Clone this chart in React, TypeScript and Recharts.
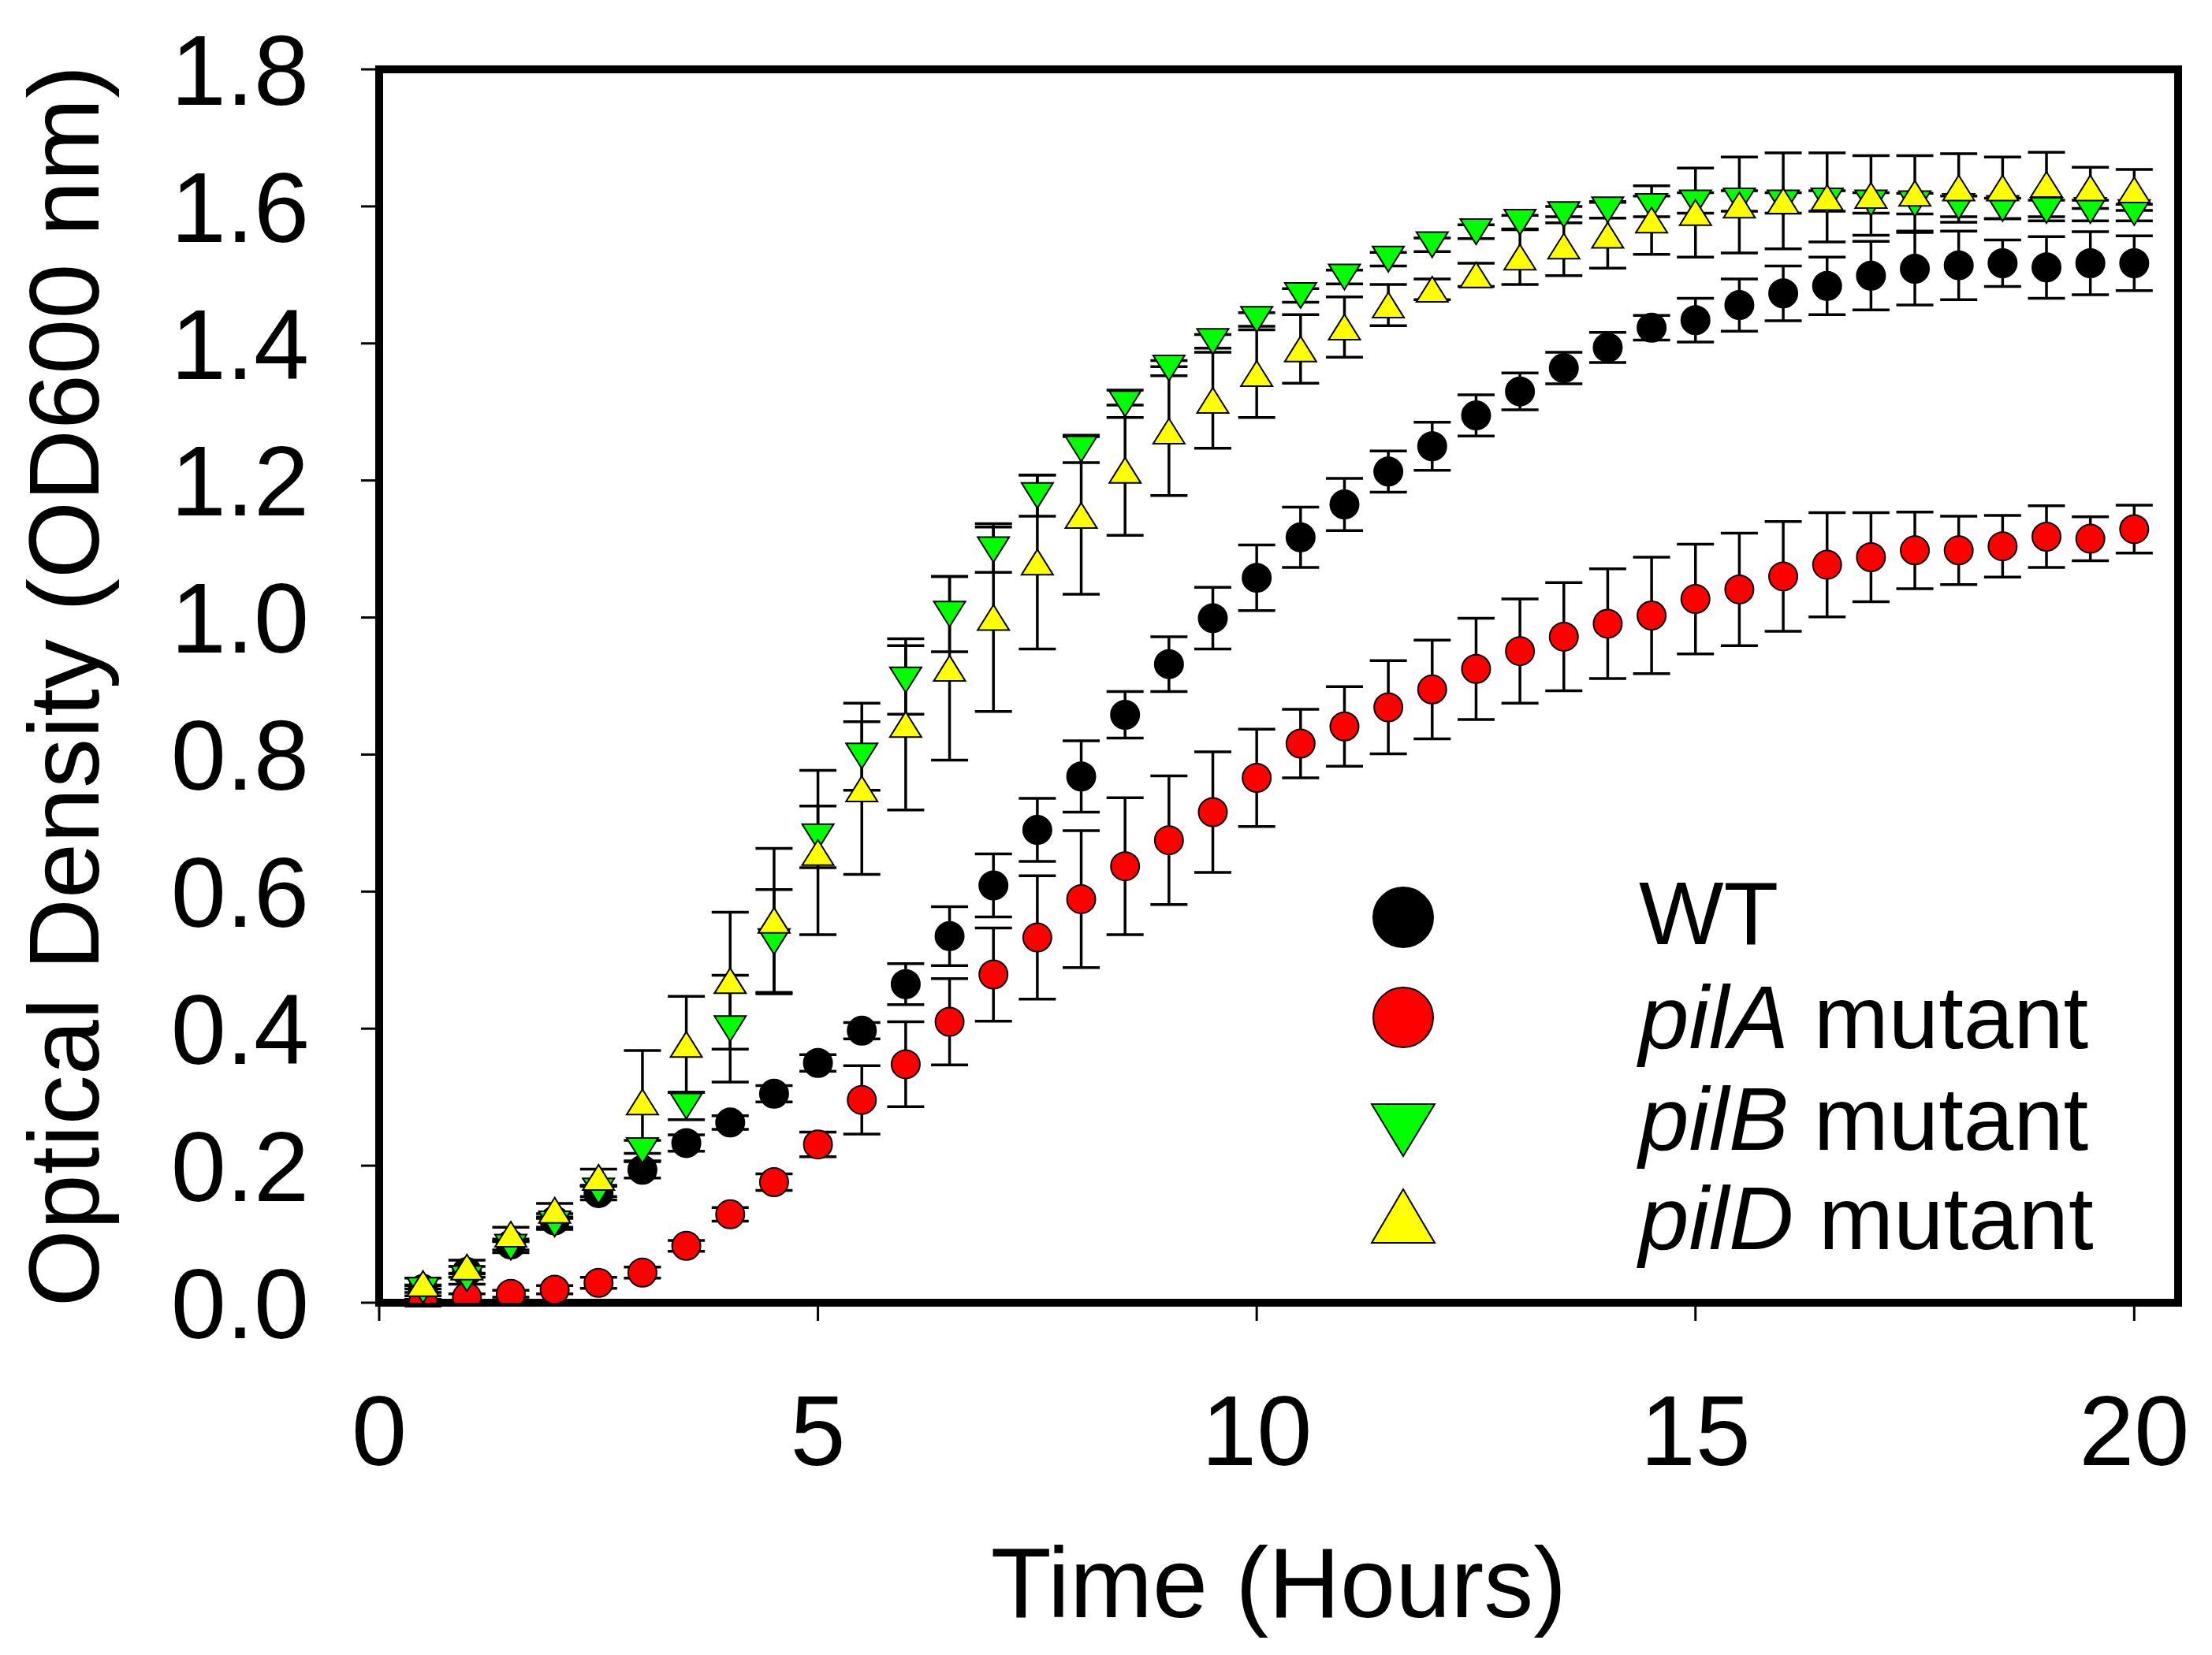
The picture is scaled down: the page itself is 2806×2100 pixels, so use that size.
import React from 'react';
import { ScatterChart, Scatter, XAxis, YAxis, ErrorBar, ReferenceArea, Legend } from 'recharts';

const FONT = '"Liberation Sans", Arial, sans-serif';

const TIMES = [0.5, 1, 1.5, 2, 2.5, 3, 3.5, 4, 4.5, 5, 5.5, 6, 6.5, 7, 7.5, 8, 8.5, 9, 9.5, 10,
  10.5, 11, 11.5, 12, 12.5, 13, 13.5, 14, 14.5, 15, 15.5, 16, 16.5, 17, 17.5, 18, 18.5, 19, 19.5, 20];

const WT = [0.02, 0.045, 0.085, 0.12, 0.16, 0.194, 0.233, 0.263, 0.305, 0.35, 0.397, 0.465, 0.535, 0.609, 0.69, 0.768, 0.858, 0.932, 0.999, 1.058,
  1.117, 1.165, 1.213, 1.25, 1.295, 1.33, 1.364, 1.394, 1.423, 1.434, 1.456, 1.473, 1.484, 1.499, 1.509, 1.514, 1.517, 1.511, 1.517, 1.517];
const WT_ERR = [0.005, 0.008, 0.008, 0.01, 0.01, 0.012, 0.012, 0.01, 0.012, 0.012, 0.012, 0.03, 0.043, 0.046, 0.046, 0.052, 0.034, 0.04, 0.045, 0.048,
  0.044, 0.038, 0.03, 0.035, 0.03, 0.027, 0.023, 0.022, 0.018, 0.032, 0.038, 0.04, 0.042, 0.05, 0.053, 0.05, 0.034, 0.045, 0.046, 0.04];

const PILA = [0.0, 0.008, 0.013, 0.019, 0.029, 0.044, 0.083, 0.129, 0.176, 0.231, 0.296, 0.348, 0.41, 0.479, 0.533, 0.589, 0.637, 0.675, 0.716, 0.766,
  0.816, 0.841, 0.869, 0.895, 0.925, 0.951, 0.972, 0.991, 1.003, 1.027, 1.041, 1.06, 1.077, 1.088, 1.098, 1.098, 1.104, 1.118, 1.115, 1.129];
const PILA_ERR = [0.005, 0.005, 0.005, 0.006, 0.008, 0.008, 0.008, 0.01, 0.012, 0.018, 0.05, 0.062, 0.063, 0.068, 0.09, 0.1, 0.1, 0.094, 0.088, 0.071,
  0.05, 0.058, 0.068, 0.072, 0.074, 0.076, 0.079, 0.08, 0.085, 0.08, 0.082, 0.08, 0.076, 0.065, 0.056, 0.05, 0.045, 0.045, 0.032, 0.035];

const PILB = [0.018, 0.035, 0.081, 0.115, 0.163, 0.222, 0.287, 0.4, 0.527, 0.68, 0.798, 0.909, 1.005, 1.099, 1.178, 1.246, 1.312, 1.364, 1.403, 1.435,
  1.47, 1.497, 1.523, 1.544, 1.563, 1.577, 1.588, 1.595, 1.6, 1.605, 1.608, 1.605, 1.608, 1.605, 1.604, 1.6, 1.597, 1.594, 1.594, 1.591];
const PILB_ERR = [0.008, 0.008, 0.008, 0.008, 0.008, 0.015, 0.02, 0.078, 0.076, 0.045, 0.05, 0.05, 0.055, 0.033, 0.03, 0.02, 0.02, 0.011, 0.01, 0.01,
  0.01, 0.01, 0.01, 0.01, 0.01, 0.01, 0.012, 0.012, 0.015, 0.015, 0.015, 0.015, 0.015, 0.015, 0.015, 0.015, 0.015, 0.015, 0.015, 0.012];

const PILD = [0.028, 0.052, 0.1, 0.135, 0.183, 0.293, 0.377, 0.47, 0.558, 0.657, 0.75, 0.844, 0.926, 1.0, 1.081, 1.149, 1.215, 1.272, 1.317, 1.356,
  1.392, 1.424, 1.456, 1.479, 1.5, 1.526, 1.542, 1.558, 1.58, 1.591, 1.602, 1.608, 1.613, 1.616, 1.619, 1.627, 1.627, 1.632, 1.627, 1.624];
const PILD_ERR = [0.008, 0.01, 0.01, 0.01, 0.012, 0.075, 0.07, 0.1, 0.105, 0.12, 0.125, 0.125, 0.134, 0.137, 0.127, 0.115, 0.095, 0.094, 0.07, 0.064,
  0.05, 0.044, 0.03, 0.015, 0.017, 0.04, 0.043, 0.048, 0.05, 0.065, 0.07, 0.07, 0.065, 0.058, 0.055, 0.05, 0.045, 0.047, 0.03, 0.03];

const X_TICKS = [0, 5, 10, 15, 20];
const Y_TICKS = [0, 0.2, 0.4, 0.6, 0.8, 1.0, 1.2, 1.4, 1.6, 1.8];

const build = (vals: number[], errs: number[]) => TIMES.map((t, i) => ({ t, v: vals[i], e: errs[i] }));

const wtData = build(WT, WT_ERR);
const pilAData = build(PILA, PILA_ERR);
const pilBData = build(PILB, PILB_ERR);
const pilDData = build(PILD, PILD_ERR);

const circleShape = (fill: string) => (props: any) => {
  const { cx, cy } = props;
  if (cx == null || cy == null) return null;
  return <circle cx={cx} cy={cy} r={18} fill={fill} stroke="#000" strokeWidth={2} />;
};

const triDownShape = (props: any) => {
  const { cx, cy } = props;
  if (cx == null || cy == null) return null;
  const w = 20, h = 32;
  return <path d={`M${cx - w},${cy - h / 2}L${cx + w},${cy - h / 2}L${cx},${cy + h / 2}Z`} fill="#00ff00" stroke="#000" strokeWidth={2} />;
};

const triUpShape = (props: any) => {
  const { cx, cy } = props;
  if (cx == null || cy == null) return null;
  const w = 20, h = 32;
  return <path d={`M${cx},${cy - h / 2}L${cx + w},${cy + h / 2}L${cx - w},${cy + h / 2}Z`} fill="#ffff00" stroke="#000" strokeWidth={2} />;
};

const LegendBox = () => (
  <svg width={1000} height={560} style={{ display: 'block', overflow: 'visible' }}>
    <circle cx={80} cy={84} r={38} fill="#000" stroke="#000" strokeWidth={2} />
    <circle cx={80} cy={211} r={38} fill="#ff0000" stroke="#000" strokeWidth={2} />
    <path d="M40,321L120,321L80,387Z" fill="#00ff00" stroke="#000" strokeWidth={2} />
    <path d="M80,429L120,497L40,497Z" fill="#ffff00" stroke="#000" strokeWidth={2} />
    <g fontFamily={FONT} fontSize={114} fill="#000">
      <text x={379} y={118}>WT</text>
      <text x={379} y={250}><tspan fontStyle="italic">pilA</tspan> mutant</text>
      <text x={379} y={379}><tspan fontStyle="italic">pilB</tspan> mutant</text>
      <text x={379} y={505}><tspan fontStyle="italic">pilD</tspan> mutant</text>
    </g>
  </svg>
);

const tickStyle = { fontSize: 126, fill: '#000', fontFamily: FONT };

export default function App() {
  return (
    <div style={{ position: 'absolute', left: 0, top: 0, width: 2806, height: 2100, background: '#fff' }}>
      <ScatterChart width={2806} height={2100} margin={{ top: 88, right: 43, bottom: 27, left: 0 }}>
        <XAxis
          type="number"
          dataKey="t"
          domain={[0, 20.5]}
          ticks={X_TICKS}
          allowDataOverflow
          height={420}
          axisLine={false}
          tickLine={{ stroke: '#000', strokeWidth: 3 }}
          tickSize={23}
          tickMargin={94}
          tick={tickStyle}
          label={{ value: 'Time (Hours)', position: 'insideBottom', offset: 21, style: { fontSize: 126, fill: '#000', fontFamily: FONT } }}
        />
        <YAxis
          type="number"
          dataKey="v"
          domain={[0, 1.8]}
          ticks={Y_TICKS}
          allowDataOverflow
          width={481}
          axisLine={false}
          tickLine={{ stroke: '#000', strokeWidth: 3 }}
          tickSize={23}
          tickMargin={66}
          tick={tickStyle}
          tickFormatter={(v: number) => v.toFixed(1)}
          label={{ value: 'Optical Density (OD600 nm)', angle: -90, position: 'insideLeft', offset: 80, style: { textAnchor: 'middle', fontSize: 126, fill: '#000', fontFamily: FONT } }}
        />
        <ReferenceArea x1={0} x2={20.5} y1={0} y2={1.8} fill="none" stroke="#000" strokeWidth={10} ifOverflow="visible" />
        <Scatter name="WT" data={wtData} shape={circleShape('#000000')} isAnimationActive={false}>
          <ErrorBar dataKey="e" direction="y" width={23.5} stroke="#000" strokeWidth={3.5} />
        </Scatter>
        <Scatter name="pilA mutant" data={pilAData} shape={circleShape('#ff0000')} isAnimationActive={false}>
          <ErrorBar dataKey="e" direction="y" width={23.5} stroke="#000" strokeWidth={3.5} />
        </Scatter>
        <Scatter name="pilB mutant" data={pilBData} shape={triDownShape} isAnimationActive={false}>
          <ErrorBar dataKey="e" direction="y" width={23.5} stroke="#000" strokeWidth={3.5} />
        </Scatter>
        <Scatter name="pilD mutant" data={pilDData} shape={triUpShape} isAnimationActive={false}>
          <ErrorBar dataKey="e" direction="y" width={23.5} stroke="#000" strokeWidth={3.5} />
        </Scatter>
        <Legend
          layout="vertical"
          align="center"
          verticalAlign="middle"
          content={() => <LegendBox />}
          wrapperStyle={{ position: 'absolute', left: 1700, top: 1080, width: 1000, height: 560 }}
        />
      </ScatterChart>
    </div>
  );
}
